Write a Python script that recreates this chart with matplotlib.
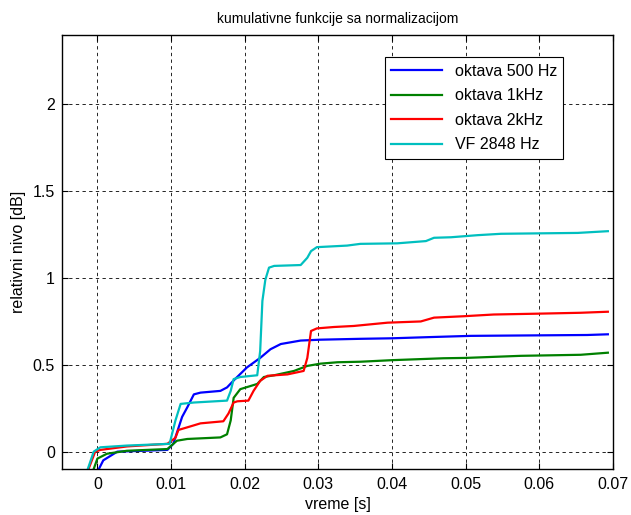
import matplotlib.pyplot as plt

plt.rcParams['font.family'] = ['Liberation Sans', 'DejaVu Sans']

# oktava 500 Hz
t_500 = [0.0002, 0.0008, 0.0027, 0.0095, 0.0103, 0.0115, 0.0122, 0.0131, 0.014, 0.0167,
         0.0176, 0.0185, 0.0203, 0.0221, 0.0235, 0.0249, 0.0276, 0.0303, 0.0357, 0.04,
         0.0452, 0.0507, 0.0665, 0.0693]
y_500 = [-0.1, -0.05, 0.0, 0.01, 0.045, 0.2, 0.255, 0.33, 0.34, 0.35,
         0.37, 0.41, 0.485, 0.54, 0.59, 0.62, 0.64, 0.645, 0.65, 0.653,
         0.66, 0.667, 0.672, 0.676]

# oktava 1kHz
t_1k = [-0.0005, 0.0, 0.0013, 0.004, 0.0095, 0.0108, 0.0122, 0.0167, 0.0176, 0.0181,
        0.0185, 0.0194, 0.0217, 0.0226, 0.024, 0.0267, 0.0285, 0.0303, 0.0326, 0.0357,
        0.04, 0.047, 0.05, 0.0575, 0.0656, 0.0693]
y_1k = [-0.1, -0.04, -0.012, 0.005, 0.015, 0.063, 0.073, 0.082, 0.1, 0.18,
        0.31, 0.36, 0.39, 0.43, 0.44, 0.465, 0.494, 0.507, 0.515, 0.518,
        0.527, 0.538, 0.54, 0.552, 0.558, 0.57]

# oktava 2kHz
t_2k = [-0.0012, -0.0003, 0.0004, 0.004, 0.0095, 0.0106, 0.011, 0.0122, 0.014, 0.0171,
        0.0178, 0.0185, 0.019, 0.0205, 0.0212, 0.0221, 0.0231, 0.0258, 0.028, 0.0285,
        0.029, 0.0298, 0.0321, 0.0348, 0.0394, 0.0439, 0.0457, 0.0497, 0.0538, 0.06,
        0.0656, 0.0693]
y_2k = [-0.1, 0.0, 0.01, 0.03, 0.045, 0.08, 0.125, 0.14, 0.163, 0.175,
        0.22, 0.283, 0.29, 0.294, 0.35, 0.408, 0.437, 0.445, 0.465, 0.54,
        0.695, 0.71, 0.718, 0.724, 0.743, 0.75, 0.772, 0.78, 0.79, 0.795,
        0.8, 0.806]

# VF 2848 Hz
t_vf = [-0.0013, -0.0005, 0.0004, 0.004, 0.0098, 0.0106, 0.0113, 0.0131, 0.0176, 0.0181,
        0.0185, 0.0194, 0.0217, 0.0221, 0.0224, 0.0228, 0.0233, 0.024, 0.0276, 0.0285,
        0.029, 0.0298, 0.0339, 0.0357, 0.0407, 0.0446, 0.0457, 0.048, 0.0516, 0.0548,
        0.0652, 0.0693]
y_vf = [-0.1, 0.0, 0.025, 0.035, 0.045, 0.18, 0.275, 0.283, 0.294, 0.35,
        0.418, 0.43, 0.44, 0.58, 0.868, 0.99, 1.06, 1.07, 1.075, 1.117,
        1.155, 1.178, 1.187, 1.197, 1.2, 1.213, 1.232, 1.235, 1.247, 1.255,
        1.26, 1.27]

fig = plt.figure(figsize=(6.31, 5.15), dpi=100)
ax = fig.add_axes([0.0983, 0.0893, 0.8732, 0.8427])

ax.plot(t_500, y_500, color=(0, 0, 1), lw=1.6, label='oktava 500 Hz')
ax.plot(t_1k, y_1k, color=(0, 0.5, 0), lw=1.6, label='oktava 1kHz')
ax.plot(t_2k, y_2k, color=(1, 0, 0), lw=1.6, label='oktava 2kHz')
ax.plot(t_vf, y_vf, color=(0, 0.75, 0.75), lw=1.6, label='VF 2848 Hz')

ax.set_xlim(-0.0048, 0.07)
ax.set_ylim(-0.1, 2.4)
ax.set_xticks([0, 0.01, 0.02, 0.03, 0.04, 0.05, 0.06, 0.07])
ax.set_xticklabels(['0', '0.01', '0.02', '0.03', '0.04', '0.05', '0.06', '0.07'])
ax.set_yticks([0, 0.5, 1, 1.5, 2])
ax.set_yticklabels(['0', '0.5', '1', '1.5', '2'])
ax.tick_params(direction='in', top=True, right=True, labelsize=11.5, length=4)
ax.tick_params(axis='x', pad=6)
ax.tick_params(axis='y', pad=5)
ax.grid(True, color='black', linestyle=(0, (4, 4)), linewidth=0.6)
for s in ax.spines.values():
    s.set_linewidth(1)

ax.set_xlabel('vreme [s]', fontsize=11.5, labelpad=3)
ax.set_ylabel('relativni nivo [dB]', fontsize=11.5, labelpad=5)
ax.set_title('kumulativne funkcije sa normalizacijom', fontsize=10, pad=9)

leg = ax.legend(loc='upper right', bbox_to_anchor=(0.91, 0.949), fancybox=False,
                edgecolor='black', framealpha=1, fontsize=11.5, handlelength=3.2,
                borderaxespad=0, labelspacing=0.6)
leg.get_frame().set_linewidth(0.8)

fig.savefig('out.png', dpi=100)
